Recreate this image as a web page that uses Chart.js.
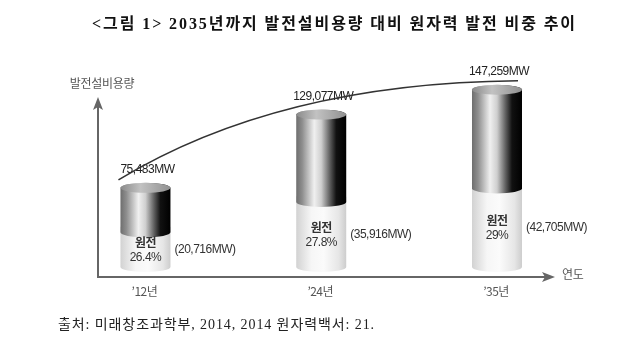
<!DOCTYPE html>
<html>
<head>
<meta charset="utf-8">
<script src="https://cdn.jsdelivr.net/npm/chart.js@4/dist/chart.umd.min.js"></script>
<style>
  html, body { margin: 0; padding: 0; background: #fff; }
  #wrap { width: 640px; height: 345px; position: relative; }
</style>
</head>
<body>
<div id="wrap"><canvas id="c"></canvas></div>
<script>
// ---- data ----
const categories = ["’12년", "’24년", "’35년"];
const totalMW = [75483, 129077, 147259];
const nuclearMW = [20716, 35916, 42705];
const nuclearShare = [26.4, 27.8, 29];
const titleText = "<그림 1> 2035년까지 발전설비용량 대비 원자력 발전 비중 추이";
const sourceText = "출처: 미래창조과학부, 2014, 2014 원자력백서: 21.";
const yAxisTitle = "발전설비용량";
const xAxisTitle = "연도";
const nuclearLabel = "원전";

const fmt = v => v.toLocaleString('en-US');

function cylinderPath(ctx, cx, w, yTop, yBot, ry) {
  const l = cx - w / 2, r = cx + w / 2;
  ctx.beginPath();
  ctx.moveTo(l, yTop);
  ctx.lineTo(l, yBot);
  ctx.ellipse(cx, yBot, w / 2, ry, 0, Math.PI, 0, true);
  ctx.lineTo(r, yTop);
  ctx.ellipse(cx, yTop, w / 2, ry, 0, 0, Math.PI, true);
  ctx.closePath();
}
function hGrad(ctx, l, r, stops) {
  const g = ctx.createLinearGradient(l, 0, r, 0);
  stops.forEach(s => g.addColorStop(s[0], s[1]));
  return g;
}
function drawText(ctx, txt, x, y, font, color, align, ls) {
  ctx.save();
  ctx.font = font;
  ctx.fillStyle = color;
  ctx.textAlign = align || 'left';
  ctx.textBaseline = 'middle';
  ctx.letterSpacing = (ls || 0) + 'px';
  ctx.fillText(txt, x, y);
  ctx.restore();
}
function fitText(ctx, txt, x, y, font, color, targetW) {
  ctx.save();
  ctx.font = font;
  ctx.letterSpacing = '0px';
  const w0 = ctx.measureText(txt).width;
  const n = [...txt].length;
  const ls = (targetW - w0) / n;
  ctx.restore();
  drawText(ctx, txt, x, y, font, color, 'left', ls);
}
function arrowHead(ctx, tipX, tipY, dir, color) {
  ctx.save();
  ctx.fillStyle = color;
  ctx.beginPath();
  if (dir === 'up') {
    ctx.moveTo(tipX, tipY);
    ctx.lineTo(tipX + 5, tipY + 13);
    ctx.lineTo(tipX, tipY + 10);
    ctx.lineTo(tipX - 5, tipY + 13);
  } else {
    ctx.moveTo(tipX, tipY);
    ctx.lineTo(tipX - 13, tipY - 5);
    ctx.lineTo(tipX - 10, tipY);
    ctx.lineTo(tipX - 13, tipY + 5);
  }
  ctx.closePath();
  ctx.fill();
  ctx.restore();
}

const cylPlugin = {
  id: 'cyl',
  afterDatasetsDraw(chart) {
    const ctx = chart.ctx;
    const area = chart.chartArea;
    const mTot = chart.getDatasetMeta(0).data;
    const mNuc = chart.getDatasetMeta(1).data;
    const ry = 5;
    const axisY = area.bottom + 10;
    const axisColor = '#666';

    // axes
    ctx.save();
    ctx.strokeStyle = axisColor;
    ctx.lineWidth = 2;
    ctx.beginPath();
    ctx.moveTo(area.left, axisY);
    ctx.lineTo(area.left, area.top + 20);
    ctx.moveTo(area.left - 1, axisY);
    ctx.lineTo(area.right - 8, axisY);
    ctx.stroke();
    ctx.restore();
    arrowHead(ctx, area.left, area.top + 11, 'up', axisColor);
    arrowHead(ctx, area.right, axisY, 'right', axisColor);
    drawText(ctx, yAxisTitle, area.left + 4, area.top - 3, '12px "Noto Sans CJK KR"', '#555', 'center', -0.3);
    drawText(ctx, xAxisTitle, area.right + 7, axisY - 3, '12px "Noto Sans CJK KR"', '#555', 'left', -0.3);

    // cylinders
    mTot.forEach((bt, i) => {
      const bn = mNuc[i];
      const cx = bt.x, w = bt.width;
      const l = cx - w / 2, r = cx + w / 2;
      const yb = area.bottom;
      const yn = bn.y;
      const yt = bt.y;
      // light (nuclear) part
      cylinderPath(ctx, cx, w, yn - ry, yb, ry);
      ctx.fillStyle = hGrad(ctx, l, r, [[0, '#d2d2d2'], [0.3, '#f6f6f6'], [0.55, '#fbfbfb'], [0.85, '#e6e6e6'], [1, '#cdcdcd']]);
      ctx.fill();
      // dark (rest) part
      cylinderPath(ctx, cx, w, yt, yn, ry);
      ctx.fillStyle = hGrad(ctx, l, r, [[0, '#6e6e6e'], [0.12, '#8e8e8e'], [0.36, '#f0f0f0'], [0.5, '#cfcfcf'], [0.68, '#5a5a5a'], [0.8, '#111'], [1, '#000']]);
      ctx.fill();
      // top cap
      ctx.beginPath();
      ctx.ellipse(cx, yt, w / 2, ry, 0, 0, Math.PI * 2);
      ctx.fillStyle = hGrad(ctx, l, r, [[0, '#8a8a8a'], [0.4, '#c2c2c2'], [1, '#909090']]);
      ctx.fill();

      // labels
      drawText(ctx, fmt(totalMW[i]) + 'MW', cx + 2, yt - 18, '12px "Liberation Sans", Arial, sans-serif', '#222', 'center', -0.5);
      const mid = (yn + yb) / 2;
      drawText(ctx, nuclearLabel, cx, mid - 7.5, 'bold 12px "Noto Sans CJK KR"', '#333', 'center', -0.5);
      drawText(ctx, nuclearShare[i] + '%', cx, mid + 8, '12px "Liberation Sans", Arial, sans-serif', '#333', 'center', -0.5);
      drawText(ctx, '(' + fmt(nuclearMW[i]) + 'MW)', r + 4, mid, '12px "Liberation Sans", Arial, sans-serif', '#333', 'left', -0.5);
      drawText(ctx, categories[i], cx - 1, axisY + 14, '12px "Noto Sans CJK KR"', '#555', 'center', -0.5);
    });

    // trend curve
    const b0 = mTot[0], b1 = mTot[1], b2 = mTot[mTot.length - 1];
    const p0 = { x: b0.x - b0.width / 2 - 2, y: b0.y - 8 };
    const m = { x: b1.x - b1.width / 2 + 2, y: b1.y - 8 };
    const p2 = { x: b2.x + b2.width / 2 - 4, y: b2.y - 9 };
    const c = { x: 2 * m.x - (p0.x + p2.x) / 2, y: 2 * m.y - (p0.y + p2.y) / 2 };
    ctx.save();
    ctx.strokeStyle = '#333';
    ctx.lineWidth = 1.6;
    ctx.beginPath();
    ctx.moveTo(p0.x, p0.y);
    ctx.quadraticCurveTo(c.x, c.y, p2.x, p2.y);
    ctx.stroke();
    ctx.restore();

    // title and source
    fitText(ctx, titleText, 92, 25, 'bold 16px "Liberation Serif", "Noto Sans CJK KR"', '#111', 485);
    fitText(ctx, sourceText, 58, 325, '14px "Liberation Serif", "Noto Sans CJK KR"', '#222', 317);
  }
};

new Chart(document.getElementById('c'), {
  type: 'bar',
  data: {
    datasets: [
      {
        label: '발전설비용량',
        data: totalMW.map((v, i) => ({ x: i, y: v })),
        yAxisID: 'y',
        backgroundColor: 'rgba(0,0,0,0)',
        borderWidth: 0,
        grouped: false,
        barThickness: 50
      },
      {
        label: '원전',
        data: nuclearMW.map((v, i) => ({ x: i, y: v })),
        yAxisID: 'y2',
        backgroundColor: 'rgba(0,0,0,0)',
        borderWidth: 0,
        grouped: false,
        barThickness: 50
      }
    ]
  },
  options: {
    responsive: true,
    maintainAspectRatio: false,
    animation: false,
    layout: { padding: { left: 98, right: 85, top: 86, bottom: 78 } },
    plugins: { legend: { display: false }, tooltip: { enabled: false } },
    scales: {
      x: { type: 'linear', min: -0.27, max: 2.33, offset: false, display: false },
      y: { min: 17600, max: 150000, display: false },
      y2: { min: 3400, max: 93900, display: false }
    }
  },
  plugins: [cylPlugin]
});
</script>
</body>
</html>
